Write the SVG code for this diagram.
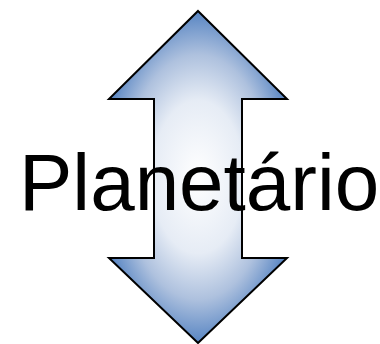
<svg xmlns="http://www.w3.org/2000/svg" width="380" height="344" viewBox="0 0 380 344">
<defs>
<radialGradient id="g" gradientUnits="userSpaceOnUse" cx="198" cy="177" r="170" gradientTransform="translate(198 177) scale(0.6 1) translate(-198 -177)">
<stop offset="0" stop-color="#ffffff"/>
<stop offset="0.45" stop-color="#e6ecf5"/>
<stop offset="0.72" stop-color="#aec1de"/>
<stop offset="1" stop-color="#4f7fc0"/>
</radialGradient>
</defs>
<style>
.arrow{fill:url(#g);stroke:#000;stroke-width:2;stroke-linejoin:miter}
.lbl{font-family:"Liberation Sans",Arial,sans-serif;font-size:80px;fill:#000}
</style>
<g id="arrow">
<path class="arrow" d="M198,11 L287,99 L242,99 L242,258 L287,258 L198,343 L109,258 L154,258 L154,99 L109,99 Z"/>
</g>
<g id="label">
<text class="lbl" x="19" y="210">Planetário</text>
</g>
</svg>
